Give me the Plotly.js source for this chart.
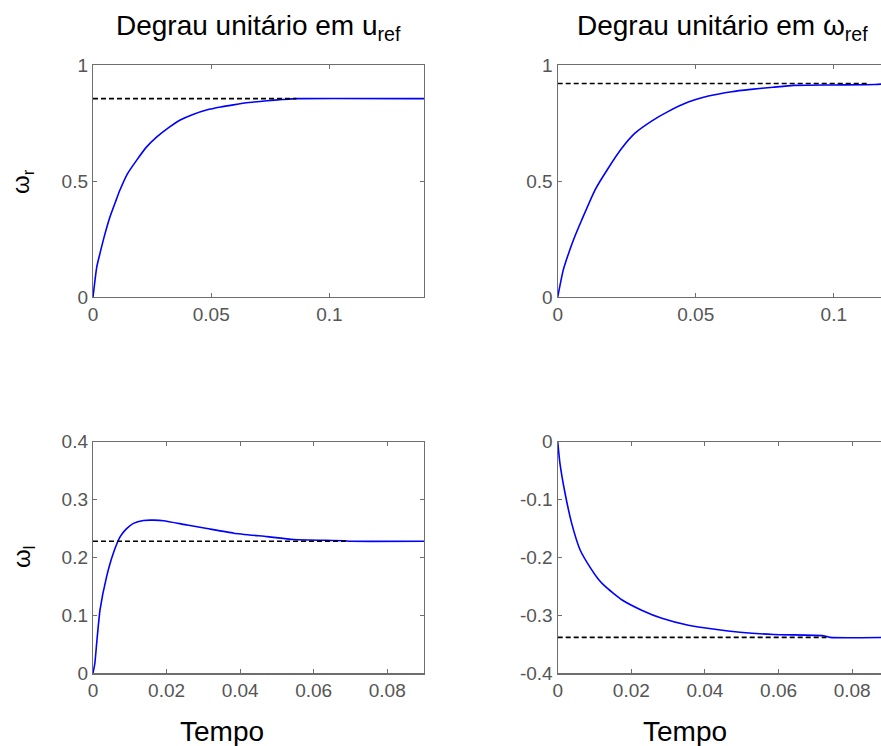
<!DOCTYPE html>
<html>
<head>
<meta charset="utf-8">
<script src="https://cdn.plot.ly/plotly-3.0.1.min.js"></script>
<style>
html, body { margin: 0; padding: 0; overflow: hidden; background: #ffffff; }
#chart { width: 900px; height: 746px; }
</style>
</head>
<body>
<div id="chart"></div>
<script>
// Step response: unit step in u_ref -> omega_r
const t_ur_wr = [0, 0.0016, 0.003, 0.005, 0.0072, 0.0095, 0.0114, 0.0145, 0.0185, 0.0225, 0.027, 0.032, 0.0369, 0.042, 0.048, 0.054, 0.0594, 0.066, 0.0736, 0.08, 0.0863, 0.14];
const v_ur_wr = [0, 0.13, 0.19, 0.27, 0.346, 0.41, 0.461, 0.53, 0.59, 0.645, 0.69, 0.73, 0.763, 0.786, 0.806, 0.819, 0.828, 0.838, 0.846, 0.851, 0.855, 0.855];
// unit step in omega_ref -> omega_r
const t_wref_wr = [0, 0.002, 0.004, 0.0057, 0.0087, 0.0135, 0.0183, 0.0232, 0.028, 0.034, 0.0401, 0.0473, 0.0546, 0.063, 0.07, 0.078, 0.0854, 0.1, 0.115, 0.12];
const v_wref_wr = [0, 0.116, 0.19, 0.246, 0.332, 0.461, 0.555, 0.641, 0.706, 0.758, 0.8, 0.84, 0.866, 0.885, 0.895, 0.904, 0.912, 0.914, 0.916, 0.92];
// unit step in u_ref -> omega_l
const t_ur_wl = [0, 0.0005, 0.001, 0.0019, 0.0037, 0.0055, 0.0074, 0.009, 0.011, 0.0137, 0.0165, 0.0192, 0.0256, 0.031, 0.0383, 0.0473, 0.0546, 0.0683, 0.07, 0.09];
const v_ur_wl = [0, 0.017, 0.052, 0.109, 0.167, 0.207, 0.236, 0.249, 0.259, 0.264, 0.2645, 0.2635, 0.256, 0.25, 0.242, 0.236, 0.231, 0.229, 0.228, 0.228];
// unit step in omega_ref -> omega_l
const t_wref_wl = [0, 0.0006, 0.002, 0.0038, 0.0061, 0.0092, 0.011, 0.0129, 0.0174, 0.0228, 0.0283, 0.0355, 0.0427, 0.0495, 0.0586, 0.0722, 0.074, 0.09];
const v_wref_wl = [0, -0.037, -0.089, -0.141, -0.187, -0.221, -0.237, -0.25, -0.273, -0.291, -0.305, -0.317, -0.324, -0.329, -0.333, -0.335, -0.338, -0.338];

// steady-state (dashed reference) values and their extent in time
const ss_values = [0.855, 0.92, 0.228, -0.338];
const ss_end = [0.086, 0.113, 0.069, 0.073];

// tick values / labels
const yt_top = [0, 0.5, 1];
const yl_top = ['0', '0.5', '1'];
const xt_top = [0, 0.05, 0.1];
const xl_top = ['0', '0.05', '0.1'];
const xt_bot = [0, 0.02, 0.04, 0.06, 0.08];
const xl_bot = ['0', '0.02', '0.04', '0.06', '0.08'];
const yt_bl = [0, 0.1, 0.2, 0.3, 0.4];
const yl_bl = ['0', '0.1', '0.2', '0.3', '0.4'];
const yt_br = [-0.4, -0.3, -0.2, -0.1, 0];
const yl_br = ['-0.4', '-0.3', '-0.2', '-0.1', '0'];

const titles = ['Degrau unitário em u<sub>ref</sub>', 'Degrau unitário em ω<sub>ref</sub>'];
const ylabels = ['ω<sub>r</sub>', 'ω<sub>l</sub>'];
const xlabel = 'Tempo';

const W = 900, H = 746;
const px = v => v / W;
const py = v => 1 - v / H;

const blue = {color: '#0000ff', width: 1.6, shape: 'spline', smoothing: 0.5};
const dashed = {color: '#000000', width: 1.6, dash: '5px,3px'};

const series = [
  [t_ur_wr, v_ur_wr, 'x', 'y'],
  [t_wref_wr, v_wref_wr, 'x2', 'y2'],
  [t_ur_wl, v_ur_wl, 'x3', 'y3'],
  [t_wref_wl, v_wref_wl, 'x4', 'y4']
];

const data = [];
series.forEach((s, i) => {
  data.push({x: s[0], y: s[1], xaxis: s[2], yaxis: s[3], type: 'scatter', mode: 'lines', line: blue, hoverinfo: 'skip'});
  data.push({x: [0, ss_end[i]], y: [ss_values[i], ss_values[i]], xaxis: s[2], yaxis: s[3], type: 'scatter', mode: 'lines', line: dashed, hoverinfo: 'skip'});
});

const FAM = 'Liberation Sans, Arial, sans-serif';
const tickFont = {family: FAM, size: 19, color: '#555555'};
function ax(domain, range, tv, tt, anchor) {
  return {
    domain: domain, range: range, anchor: anchor,
    tickmode: 'array', tickvals: tv, ticktext: tt,
    ticks: 'inside', ticklen: 4, tickwidth: 1, tickcolor: '#6e6e6e',
    showline: true, linecolor: '#6e6e6e', linewidth: 1.2, mirror: 'ticks',
    showgrid: false, zeroline: false, tickfont: tickFont, fixedrange: true
  };
}

const xL = [px(93), px(424)];
const xR = [px(557.7), px(889)];
const yT = [py(297), py(65)];
const yB = [py(673.3), py(441.7)];

const big = {family: FAM, size: 28, color: '#000000'};
const ylab = {family: FAM, size: 24, color: '#000000'};

const layout = {
  width: W, height: H,
  margin: {l: 0, r: 0, t: 0, b: 0},
  paper_bgcolor: '#ffffff', plot_bgcolor: '#ffffff',
  showlegend: false,
  xaxis: ax(xL, [0, 0.14], xt_top, xl_top, 'y'),
  yaxis: ax(yT, [0, 1], yt_top, yl_top, 'x'),
  xaxis2: ax(xR, [0, 0.12], xt_top, xl_top, 'y2'),
  yaxis2: ax(yT, [0, 1], yt_top, yl_top, 'x2'),
  xaxis3: ax(xL, [0, 0.09], xt_bot, xl_bot, 'y3'),
  yaxis3: ax(yB, [0, 0.4], yt_bl, yl_bl, 'x3'),
  xaxis4: ax(xR, [0, 0.09], xt_bot, xl_bot, 'y4'),
  yaxis4: ax(yB, [-0.4, 0], yt_br, yl_br, 'x4'),
  annotations: [
    {text: titles[0], xref: 'paper', yref: 'paper', x: px(258.5), y: py(27), xanchor: 'center', yanchor: 'middle', showarrow: false, font: big},
    {text: titles[1], xref: 'paper', yref: 'paper', x: px(722), y: py(27), xanchor: 'center', yanchor: 'middle', showarrow: false, font: big},
    {text: ylabels[0], xref: 'paper', yref: 'paper', x: px(23), y: py(182), xanchor: 'center', yanchor: 'middle', textangle: -90, showarrow: false, font: ylab},
    {text: ylabels[1], xref: 'paper', yref: 'paper', x: px(23), y: py(557), xanchor: 'center', yanchor: 'middle', textangle: -90, showarrow: false, font: ylab},
    {text: xlabel, xref: 'paper', yref: 'paper', x: px(222), y: py(731), xanchor: 'center', yanchor: 'middle', showarrow: false, font: big},
    {text: xlabel, xref: 'paper', yref: 'paper', x: px(685), y: py(731), xanchor: 'center', yanchor: 'middle', showarrow: false, font: big}
  ]
};

Plotly.newPlot('chart', data, layout, {staticPlot: true, displayModeBar: false});
</script>
</body>
</html>
